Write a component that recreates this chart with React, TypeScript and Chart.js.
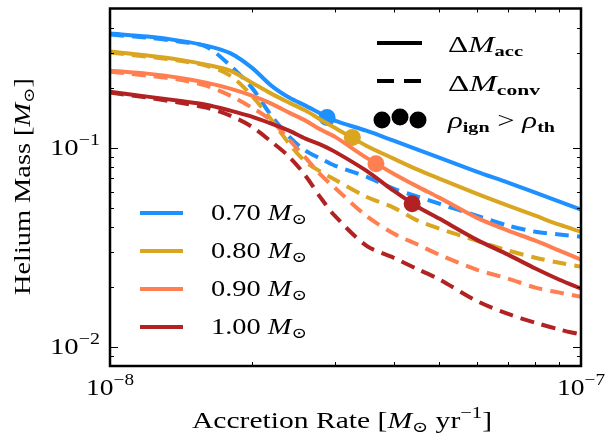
import React, { useEffect, useRef } from "react";
import { Chart, registerables } from "chart.js";

Chart.register(...registerables);

// ---------- data ----------
const rates = [
  1.0e-8, 1.2e-8, 1.4e-8, 1.6e-8, 1.8e-8, 2.0e-8, 2.2e-8, 2.4e-8, 2.6e-8, 2.8e-8,
  3.0e-8, 3.5e-8, 4.0e-8, 4.5e-8, 5.0e-8, 6.0e-8, 7.0e-8, 8.0e-8, 9.0e-8, 1.0e-7,
];

const massLabels = ["0.70", "0.80", "0.90", "1.00"];
const colors = ["#1e90ff", "#daa520", "#ff7f50", "#b22222"];

const acc070 = [0.374, 0.3612, 0.3449, 0.3255, 0.2985, 0.2524, 0.2049, 0.1784, 0.1626, 0.1482, 0.1367, 0.1217, 0.1084, 0.0977, 0.0891, 0.0758, 0.0667, 0.0594, 0.0535, 0.0488];
const conv070 = [0.3697, 0.3571, 0.341, 0.3217, 0.2583, 0.2002, 0.1448, 0.1136, 0.0966, 0.0881, 0.0812, 0.0715, 0.0622, 0.0567, 0.0523, 0.0455, 0.0406, 0.0378, 0.0366, 0.0357];
const acc080 = [0.3037, 0.29, 0.2768, 0.2613, 0.2437, 0.2121, 0.1868, 0.1683, 0.1535, 0.1382, 0.126, 0.1023, 0.0881, 0.0775, 0.0699, 0.0587, 0.0511, 0.0455, 0.041, 0.0378];
const conv080 = [0.3002, 0.2867, 0.2736, 0.2583, 0.23, 0.1825, 0.1382, 0.1047, 0.085, 0.0758, 0.0691, 0.0567, 0.05, 0.043, 0.0392, 0.0341, 0.0304, 0.028, 0.0264, 0.0252];
const acc090 = [0.2437, 0.2354, 0.2247, 0.2121, 0.1979, 0.1825, 0.1664, 0.1499, 0.1367, 0.1232, 0.1136, 0.0891, 0.074, 0.0637, 0.0561, 0.0445, 0.0383, 0.0341, 0.0304, 0.0274];
const conv090 = [0.2409, 0.23, 0.2196, 0.2049, 0.1825, 0.1589, 0.1367, 0.1097, 0.0891, 0.0732, 0.0629, 0.0455, 0.037, 0.0326, 0.029, 0.0244, 0.022, 0.0198, 0.0187, 0.0178];
const acc100 = [0.1911, 0.1804, 0.1722, 0.1644, 0.1535, 0.1431, 0.132, 0.1217, 0.111, 0.1035, 0.0955, 0.0766, 0.0608, 0.0505, 0.044, 0.0345, 0.029, 0.0247, 0.0217, 0.0196];
const conv100 = [0.189, 0.1784, 0.1683, 0.1589, 0.1448, 0.1275, 0.1072, 0.0901, 0.0723, 0.0561, 0.0455, 0.0322, 0.028, 0.0245, 0.0218, 0.017, 0.0146, 0.0132, 0.0122, 0.0115];

const accSeries = [acc070, acc080, acc090, acc100];
const convSeries = [conv070, conv080, conv090, conv100];

// ignition points (rho_ign > rho_th)
const ignRate = [2.89e-8, 3.27e-8, 3.67e-8, 4.38e-8];
const ignMass = [0.1416, 0.1123, 0.0831, 0.0523];

// axis ticks
const xMajor = [1e-8, 1e-7];
const xMajorExp = ["−8", "−7"];
const xMinor = [2e-8, 3e-8, 4e-8, 5e-8, 6e-8, 7e-8, 8e-8, 9e-8];
const yMajor = [0.01, 0.1];
const yMajorExp = ["−2", "−1"];
const yMinor = [0.009, 0.02, 0.03, 0.04, 0.05, 0.06, 0.07, 0.08, 0.09, 0.2, 0.3, 0.4];

// ---------- text helpers ----------
const FAM = '"Liberation Serif", "DejaVu Serif", serif';
const F = (size: number, style = "") => `${style} ${size}px ${FAM}`.trim();

type Seg = { t: string; f: string; dy?: number };

function richWidth(ctx: CanvasRenderingContext2D, segs: Seg[]) {
  let w = 0;
  for (const s of segs) {
    ctx.font = s.f;
    w += ctx.measureText(s.t).width;
  }
  return w;
}

// draws mixed-style text; optional target width stretches it horizontally
function drawRich(
  ctx: CanvasRenderingContext2D,
  segs: Seg[],
  x: number,
  y: number,
  align: "left" | "center" | "right",
  targetW?: number
) {
  const w = richWidth(ctx, segs);
  const sx = targetW ? targetW / w : 1;
  ctx.save();
  ctx.translate(x, y);
  ctx.scale(sx, 1);
  let cx = align === "left" ? 0 : align === "center" ? -w / 2 : -w;
  ctx.textAlign = "left";
  ctx.textBaseline = "alphabetic";
  for (const s of segs) {
    ctx.font = s.f;
    ctx.fillText(s.t, cx, s.dy || 0);
    cx += ctx.measureText(s.t).width;
  }
  ctx.restore();
}

const decorPlugin = {
  id: "decor",
  afterDraw(chart: any) {
    const ctx: CanvasRenderingContext2D = chart.ctx;
    const { left, right, top, bottom } = chart.chartArea;
    const xs = chart.scales.x;
    const ys = chart.scales.y;
    ctx.save();
    ctx.fillStyle = "#000";
    ctx.strokeStyle = "#000";

    // ticks (inward, all sides)
    ctx.lineWidth = 1;
    const vt = (v: number, len: number) => {
      const px = Math.round(xs.getPixelForValue(v)) + 0.5;
      ctx.beginPath();
      ctx.moveTo(px, bottom);
      ctx.lineTo(px, bottom - len);
      ctx.moveTo(px, top);
      ctx.lineTo(px, top + len);
      ctx.stroke();
    };
    const ht = (v: number, len: number) => {
      const py = Math.round(ys.getPixelForValue(v)) + 0.5;
      ctx.beginPath();
      ctx.moveTo(left, py);
      ctx.lineTo(left + len, py);
      ctx.moveTo(right, py);
      ctx.lineTo(right - len, py);
      ctx.stroke();
    };
    xMajor.forEach((v) => vt(v, 8));
    xMinor.forEach((v) => vt(v, 4));
    yMajor.forEach((v) => ht(v, 8));
    yMinor.forEach((v) => ht(v, 4));

    // frame
    ctx.lineWidth = 2.5;
    ctx.strokeRect(left, top, right - left, bottom - top);

    // tick labels
    xMajor.forEach((v, i) => {
      const px = xs.getPixelForValue(v);
      drawRich(
        ctx,
        [
          { t: "10", f: F(23) },
          { t: xMajorExp[i], f: F(16), dy: -10 },
        ],
        px,
        bottom + 29,
        "center",
        48
      );
    });
    yMajor.forEach((v, i) => {
      const py = ys.getPixelForValue(v);
      drawRich(
        ctx,
        [
          { t: "10", f: F(23) },
          { t: yMajorExp[i], f: F(16), dy: -10 },
        ],
        left - 10,
        py + 7,
        "right",
        50
      );
    });

    // axis titles
    drawRich(
      ctx,
      [
        { t: "Accretion Rate [", f: F(23) },
        { t: "M", f: F(23, "italic") },
        { t: "⊙", f: F(15), dy: 4 },
        { t: " yr", f: F(23) },
        { t: "−1", f: F(16), dy: -10 },
        { t: "]", f: F(23) },
      ],
      342,
      428,
      "center",
      300
    );
    ctx.save();
    ctx.translate(30, 186.5);
    ctx.rotate(-Math.PI / 2);
    drawRich(
      ctx,
      [
        { t: "Helium Mass [", f: F(23) },
        { t: "M", f: F(23, "italic") },
        { t: "⊙", f: F(15), dy: 4 },
        { t: "]", f: F(23) },
      ],
      0,
      0,
      "center",
      217
    );
    ctx.restore();

    // left legend (masses)
    massLabels.forEach((m, i) => {
      const y = 213 + 38 * i;
      ctx.strokeStyle = colors[i];
      ctx.lineWidth = 4;
      ctx.setLineDash([]);
      ctx.beginPath();
      ctx.moveTo(140, y);
      ctx.lineTo(183, y);
      ctx.stroke();
      ctx.fillStyle = "#000";
      drawRich(
        ctx,
        [
          { t: m + " ", f: F(23) },
          { t: "M", f: F(23, "italic") },
          { t: "⊙", f: F(15), dy: 4 },
        ],
        211,
        y + 7,
        "left",
        96
      );
    });

    // right legend (line styles)
    ctx.strokeStyle = "#000";
    ctx.lineWidth = 4;
    ctx.setLineDash([]);
    ctx.beginPath();
    ctx.moveTo(377, 43);
    ctx.lineTo(422, 43);
    ctx.stroke();
    ctx.setLineDash([17, 10]);
    ctx.beginPath();
    ctx.moveTo(377, 81);
    ctx.lineTo(422, 81);
    ctx.stroke();
    ctx.setLineDash([]);
    [
      [382, 120],
      [400, 117],
      [418, 120],
    ].forEach(([cx, cy]) => {
      ctx.beginPath();
      ctx.arc(cx, cy, 8.5, 0, Math.PI * 2);
      ctx.fill();
    });
    drawRich(
      ctx,
      [
        { t: "Δ", f: F(23) },
        { t: "M", f: F(23, "italic") },
        { t: "acc", f: F(15, "bold"), dy: 4 },
      ],
      448,
      52,
      "left",
      75
    );
    drawRich(
      ctx,
      [
        { t: "Δ", f: F(23) },
        { t: "M", f: F(23, "italic") },
        { t: "conv", f: F(15, "bold"), dy: 4 },
      ],
      448,
      91,
      "left",
      92
    );
    drawRich(
      ctx,
      [
        { t: "ρ", f: F(23, "italic") },
        { t: "ign", f: F(15, "bold"), dy: 4 },
        { t: " > ", f: F(23) },
        { t: "ρ", f: F(23, "italic") },
        { t: "th", f: F(15, "bold"), dy: 4 },
      ],
      448,
      128,
      "left",
      107
    );
    ctx.restore();
  },
};

export default function App() {
  const ref = useRef<HTMLCanvasElement | null>(null);

  useEffect(() => {
    if (!ref.current) return;
    const datasets: any[] = [];
    massLabels.forEach((m, i) => {
      datasets.push({
        label: `${m} acc`,
        data: rates.map((x, j) => ({ x, y: accSeries[i][j] })),
        borderColor: colors[i],
        backgroundColor: colors[i],
        borderWidth: 4,
        pointRadius: 0,
        fill: false,
        tension: 0.3,
        order: 100 - 3 * i,
      });
      datasets.push({
        label: `${m} conv`,
        data: rates.map((x, j) => ({ x, y: convSeries[i][j] })),
        borderColor: colors[i],
        backgroundColor: colors[i],
        borderWidth: 4,
        borderDash: [14, 8],
        pointRadius: 0,
        fill: false,
        tension: 0.3,
        order: 99 - 3 * i,
      });
      datasets.push({
        label: `${m} ign`,
        data: [{ x: ignRate[i], y: ignMass[i] }],
        borderColor: colors[i],
        backgroundColor: colors[i],
        showLine: false,
        pointRadius: 8.5,
        pointBorderWidth: 0,
        order: 98 - 3 * i,
      });
    });

    const chart = new Chart(ref.current, {
      type: "line",
      data: { datasets },
      options: {
        animation: false,
        responsive: false,
        devicePixelRatio: 1,
        layout: { padding: { left: 110, right: 26, top: 8, bottom: 72 } },
        plugins: { legend: { display: false }, tooltip: { enabled: false } },
        scales: {
          x: { type: "logarithmic", min: 1e-8, max: 1e-7, display: false },
          y: { type: "logarithmic", min: 0.008, max: 0.5, display: false },
        },
      },
      plugins: [decorPlugin],
    } as any);
    return () => chart.destroy();
  }, []);

  return (
    <div style={{ position: "fixed", left: 0, top: 0, width: 607, height: 438, background: "#fff" }}>
      <canvas ref={ref} width={607} height={438} />
    </div>
  );
}
